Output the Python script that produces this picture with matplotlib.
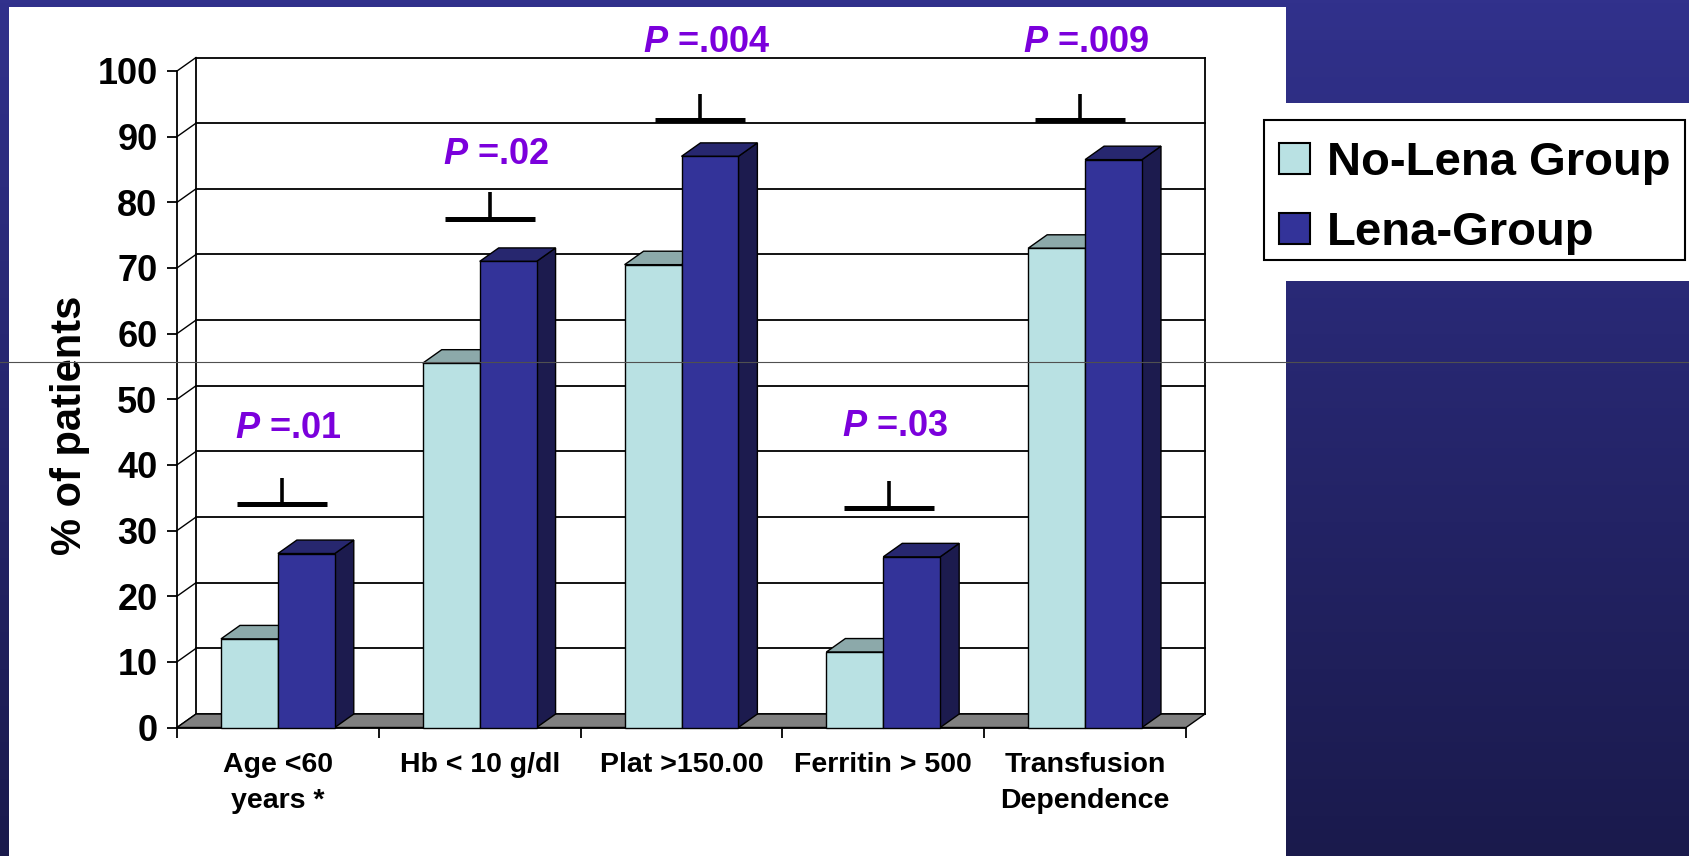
import matplotlib.pyplot as plt
import numpy as np
from matplotlib.patches import Polygon, Rectangle
from matplotlib.lines import Line2D

plt.rcParams['font.family'] = ['Liberation Sans', 'DejaVu Sans']
plt.rcParams['font.weight'] = 'bold'
plt.rcParams['mathtext.fontset'] = 'custom'
plt.rcParams['mathtext.bfit'] = 'Liberation Sans:italic:bold'
plt.rcParams['mathtext.bf'] = 'Liberation Sans:bold'
plt.rcParams['mathtext.rm'] = 'Liberation Sans:bold'

# data
categories = ['Age <60\nyears *', 'Hb < 10 g/dl', 'Plat >150.00',
              'Ferritin > 500', 'Transfusion\nDependence']
no_lena = [13.5, 55.5, 70.5, 11.5, 73]
lena = [26.5, 71, 87, 26, 86.5]
series_names = ['No-Lena Group', 'Lena-Group']
p_values = ['.01', '.02', '.004', '.03', '.009']
bracket_level = [34, 77.5, 92.5, 33.5, 92.5]
yticks = np.arange(0, 101, 10)

# placement of the significance markers around each group
mark_shift = [0.02, 0.05, 0.094, 0.03, -0.025]
text_gap = [11.5, 9.8, 11.8, 12.3, 11.8]

# colours
c_light = ('#B9E1E3', '#8CA9AA', '#7D9798')
c_dark = ('#333399', '#27276F', '#1C1B4E')
purple = '#7B00DC'

# depth of the 3-D box, in data units
DX, DY = 0.094, 2.05
W = 0.282

fig = plt.figure(figsize=(16.89, 8.56), dpi=100)
FW, FH = 1689, 856

# slide background
bg = fig.add_axes([0, 0, 1, 1], zorder=-10)
grad = np.linspace(0, 1, 256)[:, None]
top_c = np.array([0x31, 0x31, 0x8C]) / 255
bot_c = np.array([0x1A, 0x1A, 0x4C]) / 255
img = top_c[None, None, :] * (1 - grad[..., None]) + bot_c[None, None, :] * grad[..., None]
bg.imshow(np.repeat(img, 2, axis=1), aspect='auto', extent=[0, 1, 0, 1])
bg.add_patch(Rectangle((9 / FW, 0), (1286 - 9) / FW, 1 - 7 / FH,
                       facecolor='white', edgecolor='none'))
bg.add_patch(Rectangle((1286 / FW, 1 - 281 / FH), 1, (281 - 103) / FH,
                       facecolor='white', edgecolor='none'))
bg.set_xlim(0, 1)
bg.set_ylim(0, 1)
bg.axis('off')

ax = fig.add_axes([177 / FW, 1 - 727.5 / FH, (1186 - 177) / FW, (727.5 - 71) / FH])
ax.set_facecolor('none')
ax.set_xlim(-0.5, 4.5)
ax.set_ylim(0, 100)

# back wall, side wall and gridlines
x_left, x_right = -0.5, 4.5
for y in yticks:
    ax.plot([x_left + DX, x_right + DX], [y + DY, y + DY], color='black', lw=1.3,
            zorder=1, clip_on=False)
    ax.plot([x_left, x_left + DX], [y, y + DY], color='black', lw=1.0,
            zorder=1, clip_on=False)
ax.plot([x_left + DX, x_left + DX], [DY, 100 + DY], color='black', lw=1.3, zorder=1, clip_on=False)
ax.plot([x_right + DX, x_right + DX], [DY, 100 + DY], color='black', lw=1.3, zorder=1, clip_on=False)

# floor
ax.add_patch(Polygon([(x_left, 0), (x_right, 0), (x_right + DX, DY), (x_left + DX, DY)],
                     closed=True, facecolor='#808080', edgecolor='black', lw=1.0,
                     zorder=2, clip_on=False))


def bar3d(x0, v, colors, z):
    front, top, side = colors
    ax.add_patch(Polygon([(x0 + W, 0), (x0 + W + DX, DY), (x0 + W + DX, v + DY), (x0 + W, v)],
                         facecolor=side, edgecolor='black', lw=1.0, zorder=z, clip_on=False))
    ax.add_patch(Polygon([(x0, v), (x0 + W, v), (x0 + W + DX, v + DY), (x0 + DX, v + DY)],
                         facecolor=top, edgecolor='black', lw=1.0, zorder=z, clip_on=False))
    ax.add_patch(Rectangle((x0, 0), W, v, facecolor=front, edgecolor='black', lw=1.0,
                           zorder=z, clip_on=False))


for i in range(len(categories)):
    bar3d(i - W, no_lena[i], c_light, 3)
    bar3d(i, lena[i], c_dark, 4)

# significance markers
for i, (p, b) in enumerate(zip(p_values, bracket_level)):
    xc = i + mark_shift[i]
    ax.plot([xc - 0.223, xc + 0.223], [b, b], color='black', lw=3.6,
            solid_capstyle='butt', zorder=5, clip_on=False)
    ax.plot([xc, xc], [b, b + 4], color='black', lw=2.6,
            solid_capstyle='butt', zorder=5, clip_on=False)
    ax.text(xc + 0.03, b + text_gap[i], r'$\mathbfit{P}$ =' + p, color=purple, fontsize=26,
            fontweight='bold', ha='center', va='center', zorder=6, clip_on=False)

# axes
for s in ['top', 'right']:
    ax.spines[s].set_visible(False)
ax.spines['left'].set_linewidth(1.3)
ax.spines['bottom'].set_linewidth(1.3)
ax.spines['left'].set_zorder(2)
ax.set_yticks(yticks)
ax.tick_params(axis='y', length=7, width=1.3, pad=7, labelsize=26)
ax.set_xticks(np.arange(-0.5, 5, 1))
ax.set_xticklabels([])
ax.tick_params(axis='x', which='major', length=7, width=1.3)
ax.set_xticks(range(len(categories)), minor=True)
ax.set_xticklabels(categories, minor=True, fontsize=20.5, linespacing=1.5)
ax.tick_params(axis='x', which='minor', length=0, pad=18)

ax.set_ylabel('% of patients', fontsize=30, fontweight='bold', ha='center', va='center')
ax.yaxis.set_label_coords(-0.106, 0.46)

# legend box
fig.add_artist(Rectangle((1264 / FW, 1 - 260 / FH), (1685 - 1264) / FW, (260 - 120) / FH,
                         transform=fig.transFigure, facecolor='white', edgecolor='black',
                         lw=1.5, zorder=10))
for name, col, base in zip(series_names, [c_light[0], c_dark[0]], [175, 245]):
    fig.add_artist(Rectangle((1279 / FW, 1 - (base - 1) / FH), 31 / FW, 31 / FH,
                             transform=fig.transFigure, facecolor=col, edgecolor='black',
                             lw=1.5, zorder=11))
    fig.text(1327 / FW, 1 - base / FH, name, fontsize=34, fontweight='bold',
             ha='left', va='baseline', zorder=11)

# thin rule across the slide
fig.add_artist(Line2D([0, 1], [1 - 362 / FH, 1 - 362 / FH], transform=fig.transFigure,
                      color='#505050', lw=0.8, zorder=20))

fig.savefig('out.png', dpi=100)
